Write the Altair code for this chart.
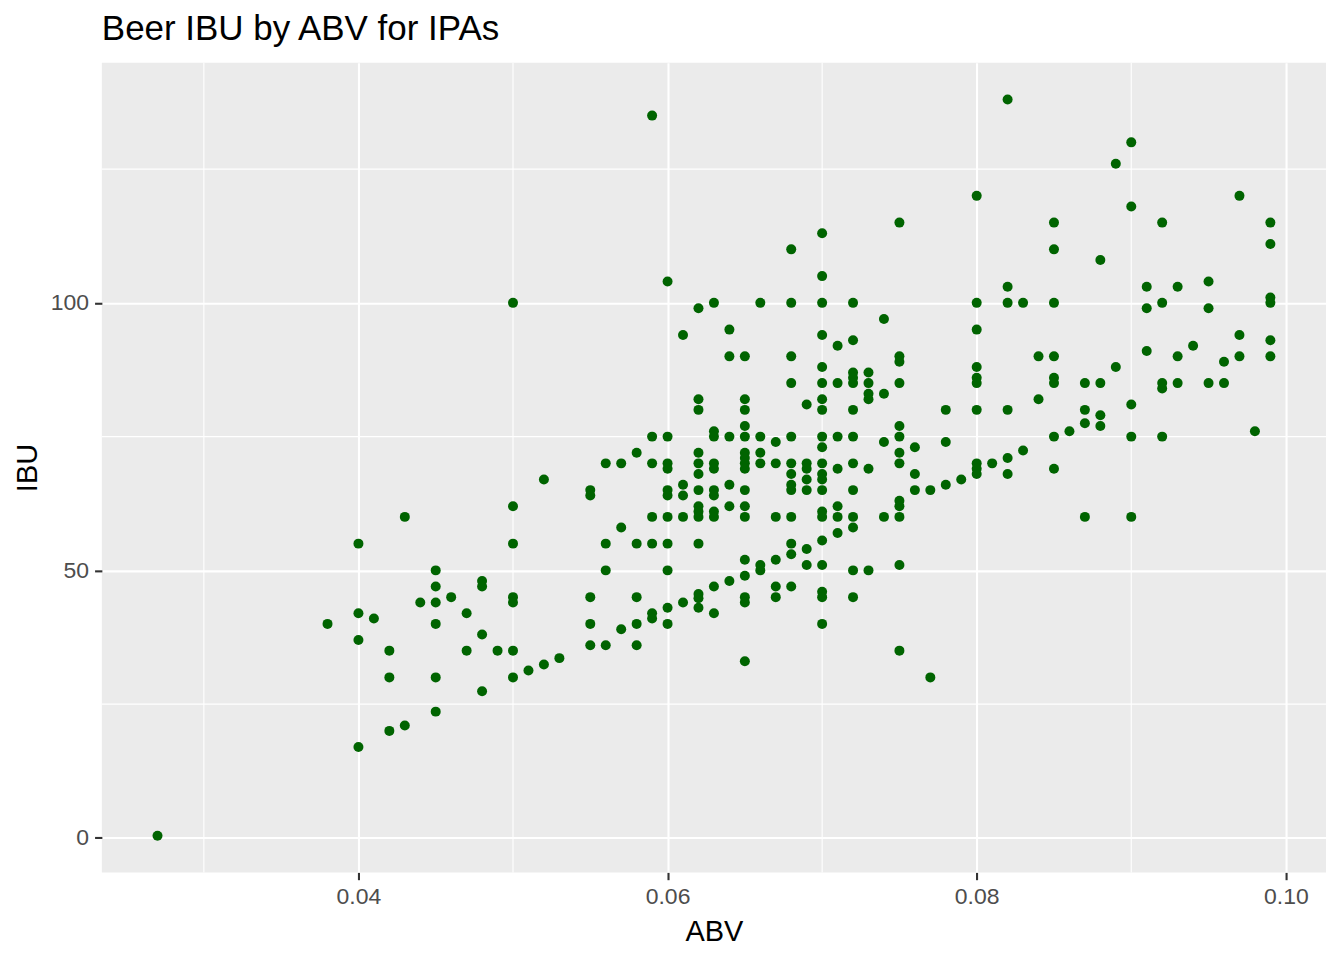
import altair as alt
import pandas as pd

# Chart text
TITLE = "Beer IBU by ABV for IPAs"
X_TITLE = "ABV"
Y_TITLE = "IBU"

# Axis breaks (major ticks + minor grid lines, ggplot style)
X_TICKS = [0.04, 0.06, 0.08, 0.10]
X_MINOR = [0.03, 0.05, 0.07, 0.09]
Y_TICKS = [0, 50, 100]
Y_MINOR = [25, 75, 125]
X_DOMAIN = [0.0234, 0.1026]
Y_DOMAIN = [-6.45, 144.9]

# Data: each ABV column and the IBU values plotted at it
ABV_LEVELS = [
    0.027, 0.038, 0.040, 0.041, 0.042, 0.043, 0.044, 0.045, 0.046, 0.047,
    0.048, 0.049, 0.050, 0.051, 0.052, 0.053, 0.055, 0.056, 0.057, 0.058,
    0.059, 0.060, 0.061, 0.062, 0.063, 0.064, 0.065, 0.066, 0.067, 0.068,
    0.069, 0.070, 0.071, 0.072, 0.073, 0.074, 0.075, 0.076, 0.077, 0.078,
    0.079, 0.080, 0.081, 0.082, 0.083, 0.084, 0.085, 0.086, 0.087, 0.088,
    0.089, 0.090, 0.091, 0.092, 0.093, 0.094, 0.095, 0.096, 0.097, 0.098,
    0.099,
]
IBU_AT_LEVEL = [
    [0.4],
    [40],
    [55, 42, 37, 17],
    [41],
    [35, 30, 20],
    [60, 21],
    [44],
    [50, 47, 44, 40, 30, 23.6],
    [45],
    [42, 35],
    [48, 47, 38, 27.4],
    [35],
    [100, 62, 55, 45, 44, 35, 30],
    [31.3],
    [67, 32.4],
    [33.6],
    [65, 64, 45, 40, 36],
    [70, 55, 50, 36],
    [70, 58, 39],
    [72, 55, 45, 40, 36],
    [135, 75, 70, 60, 55, 42, 41],
    [104, 75, 70, 69, 65, 64, 60, 55, 50, 43, 40],
    [94, 66, 64, 60, 44],
    [99, 82, 80, 72, 70, 68, 65, 62, 61, 60, 55, 45.6, 44.8, 43],
    [100, 76, 75, 70, 69, 65, 64, 61, 60, 47, 42],
    [95, 90, 75, 66, 62, 48],
    [90, 82, 80, 77, 75, 72, 71, 70, 69, 65, 62, 60, 52, 49, 45, 44, 33],
    [100, 75, 72, 70, 51, 50],
    [74, 70, 60, 52, 47, 45],
    [110, 100, 90, 85, 75, 70, 68, 66, 65, 60, 55, 53, 47],
    [81, 70, 69, 67, 65, 54, 51],
    [113, 105, 100, 94, 88, 85, 82, 80, 75, 73, 70, 68, 67, 65, 61, 60,
     55.6, 51, 46, 45, 40],
    [92, 85, 75, 69, 62, 60, 57],
    [100, 93, 87, 86, 85, 80, 75, 70, 65, 60, 58, 50, 45],
    [87, 85, 83, 82, 69, 50],
    [97, 83, 74, 60],
    [115, 90, 89, 85, 77, 75, 72, 70, 63, 62, 60, 51, 35],
    [73, 68, 65],
    [65, 30],
    [80, 74, 66],
    [67],
    [120, 100, 95, 88, 86, 85, 80, 70, 69, 68],
    [70],
    [138, 103, 100, 80, 71, 68],
    [100, 72.4],
    [90, 82],
    [115, 110, 100, 90, 86, 85, 75, 69],
    [76],
    [85, 80, 77.5, 60],
    [108, 85, 79, 77],
    [126, 88],
    [130, 118, 81, 75, 60],
    [103, 99, 91],
    [115, 100, 85, 84, 75],
    [103, 90, 85],
    [92],
    [104, 99, 85],
    [89, 85],
    [120, 94, 90],
    [76],
    [115, 111, 101, 100, 93, 90],
]

rows = [(a, v) for a, vals in zip(ABV_LEVELS, IBU_AT_LEVEL) for v in vals]
beers = pd.DataFrame(rows, columns=["ABV", "IBU"])

FONT = "Liberation Sans"
x_scale = alt.Scale(domain=X_DOMAIN, nice=False, zero=False)
y_scale = alt.Scale(domain=Y_DOMAIN, nice=False, zero=False)

x_axis = alt.Axis(
    values=X_TICKS, format=".2f", grid=True, labelFlush=False,
    labelPadding=6, titleX=613, titleY=68, titleAlign="center",
    titleBaseline="alphabetic",
)
y_axis = alt.Axis(
    values=Y_TICKS, format="d", grid=True, labelFlush=False,
    labelPadding=6, titleX=-65, titleY=405.5, titleAngle=270,
    titleAlign="center", titleBaseline="alphabetic",
)

# minor grid lines
minor_x = alt.Chart(pd.DataFrame({"ABV": X_MINOR})).mark_rule(
    color="white", strokeWidth=1.1
).encode(x=alt.X("ABV:Q", scale=x_scale, title=X_TITLE))

minor_y = alt.Chart(pd.DataFrame({"IBU": Y_MINOR})).mark_rule(
    color="white", strokeWidth=1.1
).encode(y=alt.Y("IBU:Q", scale=y_scale, title=Y_TITLE))

points = alt.Chart(beers).mark_circle(
    size=100, color="#006400", opacity=1
).encode(
    x=alt.X("ABV:Q", scale=x_scale, axis=x_axis, title=X_TITLE),
    y=alt.Y("IBU:Q", scale=y_scale, axis=y_axis, title=Y_TITLE),
)

chart = alt.layer(minor_x, minor_y, points).properties(
    width=1226,
    height=811,
    autosize=alt.AutoSizeParams(type="none"),
    padding={"left": 94, "top": 54, "right": 10, "bottom": 80},
    title=alt.TitleParams(
        TITLE, anchor="start", frame="group", fontSize=35, font=FONT,
        fontWeight="normal", color="black", baseline="alphabetic",
        offset=21, dy=34,
    ),
).configure(
    background="white",
).configure_view(
    fill="#EBEBEB", strokeWidth=0,
).configure_axis(
    labelFont=FONT, labelFontSize=23, labelColor="#4D4D4D",
    titleFont=FONT, titleFontSize=29, titleColor="black",
    titleFontWeight="normal", tickColor="#333333", tickWidth=2.1,
    tickSize=7.3, domain=False, gridColor="white", gridWidth=2.1,
    labelOverlap=False,
)

chart.save("out.html", embed_options={"renderer": "svg", "actions": False})
